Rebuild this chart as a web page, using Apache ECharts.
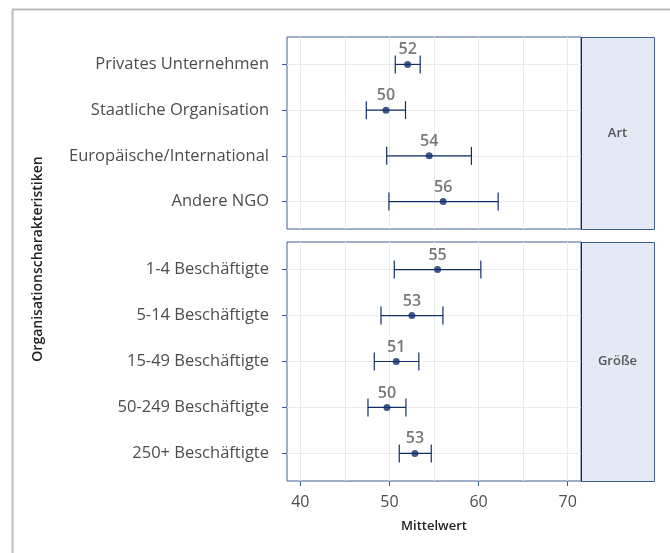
<!DOCTYPE html>
<html><head><meta charset="utf-8">
<script src="https://cdn.jsdelivr.net/npm/echarts@6/dist/echarts.min.js"></script>
<style>html,body{margin:0;padding:0;background:#fff}#c{width:670px;height:553px}</style>
</head><body><div id="c"></div>
<script>
// ---- data ----
const artCategories = ['Privates Unternehmen', 'Staatliche Organisation', 'Europäische/International', 'Andere NGO'];
const artMean = [52.04, 49.61, 54.46, 56.03];
const artLow  = [50.65, 47.40, 49.69, 49.94];
const artHigh = [53.45, 51.80, 59.20, 62.20];

const sizeCategories = ['1-4 Beschäftigte', '5-14 Beschäftigte', '15-49 Beschäftigte', '50-249 Beschäftigte', '250+ Beschäftigte'];
const sizeMean = [55.40, 52.52, 50.76, 49.72, 52.86];
const sizeLow  = [50.54, 49.05, 48.30, 47.59, 51.10];
const sizeHigh = [60.26, 56.00, 53.30, 51.85, 54.69];

const xTickValues = [40, 50, 60, 70];
const xGridValues = [40, 45, 50, 55, 60, 65, 70];
const panelLabels = ['Art', 'Größe'];
const xTitle = 'Mittelwert';
const yTitle = 'Organisationscharakteristiken';

// ---- style ----
const FONT = '"Open Sans"';
const NAVY = '#0f2e6a';
const BORDER = '#3f5d94';
const GRIDC = '#ebebeb';
const TXT = '#4d4d4d';
const X_MIN = 38.5, X_MAX = 71.5;

const L = 287, W = 294;
const panels = [
  { top: 37, height: 192 },
  { top: 242, height: 239 }
];
const stripW = 73;

const idx = arr => arr.map((_, i) => i + 1);

function yAxisFor(gridIndex, cats) {
  const vals = idx(cats);
  return {
    type: 'value', gridIndex, inverse: true, min: 0.4, max: cats.length + 0.6,
    axisLine: { show: false },
    axisTick: { show: true, customValues: vals, length: 5, lineStyle: { color: BORDER, width: 1 } },
    axisLabel: { customValues: vals, formatter: v => cats[Math.round(v) - 1] || '', margin: 18,
      fontFamily: FONT, fontSize: 16.5, color: TXT },
    splitLine: { show: true, lineStyle: { color: GRIDC, width: 1 } }
  };
}

function gridXAxis(gridIndex, position) {
  return {
    type: 'value', gridIndex, min: X_MIN, max: X_MAX, position,
    axisLine: { show: false },
    axisTick: { show: false, customValues: xGridValues },
    axisLabel: { show: false, customValues: xGridValues },
    splitLine: { show: true, lineStyle: { color: GRIDC, width: 1 } }
  };
}

function errorSeries(xi, yi, lo, hi) {
  return {
    type: 'custom', xAxisIndex: xi, yAxisIndex: yi, z: 3,
    data: lo.map((v, i) => [v, hi[i], i + 1]),
    encode: { x: [0, 1], y: 2 },
    renderItem: (params, api) => {
      const a = api.coord([api.value(0), api.value(2)]);
      const b = api.coord([api.value(1), api.value(2)]);
      const h = 9;
      const st = { stroke: NAVY, lineWidth: 1.2 };
      return { type: 'group', children: [
        { type: 'line', shape: { x1: a[0], y1: a[1], x2: b[0], y2: b[1] }, style: st },
        { type: 'line', shape: { x1: a[0], y1: a[1] - h, x2: a[0], y2: a[1] + h }, style: st },
        { type: 'line', shape: { x1: b[0], y1: b[1] - h, x2: b[0], y2: b[1] + h }, style: st }
      ]};
    }
  };
}

function pointSeries(xi, yi, means) {
  return {
    type: 'scatter', xAxisIndex: xi, yAxisIndex: yi, z: 4,
    symbol: 'circle', symbolSize: 7, itemStyle: { color: NAVY },
    data: means.map((v, i) => [v, i + 1]),
    label: { show: true, position: 'top', distance: 3, formatter: p => String(Math.round(p.value[0])),
      fontFamily: FONT, fontSize: 16, fontWeight: 600, color: '#555' },
    emphasis: { disabled: true }
  };
}

const graphics = [];
// outer frame (left and top)
graphics.push({ type: 'line', shape: { x1: 12.5, y1: 9.5, x2: 12.5, y2: 553 }, style: { stroke: '#bdbdbd', lineWidth: 2 } });
graphics.push({ type: 'line', shape: { x1: 12, y1: 9.5, x2: 670, y2: 9.5 }, style: { stroke: '#bdbdbd', lineWidth: 2 } });
panels.forEach((p, k) => {
  graphics.push({ type: 'rect', shape: { x: L + W + 0.5, y: p.top + 0.5, width: stripW, height: p.height },
    style: { fill: '#e3e9f5', stroke: BORDER, lineWidth: 1 }, z: 10 });
  graphics.push({ type: 'line', shape: { x1: L + W + 0.5, y1: p.top + 0.5, x2: L + W + 0.5, y2: p.top + p.height + 0.5 },
    style: { stroke: '#0d2a5c', lineWidth: 1 }, z: 11 });
  graphics.push({ type: 'text', x: L + W + stripW / 2, y: p.top + p.height / 2, z: 12,
    style: { text: panelLabels[k], fontFamily: FONT, fontSize: 13, fontWeight: 600, fill: '#555', align: 'center', verticalAlign: 'middle' } });
});
graphics.push({ type: 'text', x: 38, y: (panels[0].top + panels[1].top + panels[1].height) / 2, rotation: Math.PI / 2,
  style: { text: yTitle, fontFamily: FONT, fontSize: 14, fontWeight: 600, fill: '#222', align: 'center', verticalAlign: 'middle' } });

const option = {
  animation: false,
  backgroundColor: '#fff',
  grid: panels.map(p => ({ left: L, top: p.top, width: W, height: p.height, show: true,
    borderColor: BORDER, borderWidth: 1, backgroundColor: 'transparent', containLabel: false })),
  xAxis: [
    gridXAxis(0, 'bottom'),
    {
      type: 'value', gridIndex: 1, min: X_MIN, max: X_MAX, position: 'bottom',
      axisLine: { show: false },
      axisTick: { show: true, customValues: xTickValues, length: 5, lineStyle: { color: BORDER, width: 1 } },
      axisLabel: { customValues: xTickValues, margin: 13, fontFamily: FONT, fontSize: 16, color: TXT },
      splitLine: { show: false },
      name: xTitle, nameLocation: 'middle', nameGap: 39,
      nameTextStyle: { fontFamily: FONT, fontSize: 13, fontWeight: 600, color: '#222' }
    },
    gridXAxis(1, 'top')
  ],
  yAxis: [yAxisFor(0, artCategories), yAxisFor(1, sizeCategories)],
  series: [
    errorSeries(0, 0, artLow, artHigh),
    pointSeries(0, 0, artMean),
    errorSeries(1, 1, sizeLow, sizeHigh),
    pointSeries(1, 1, sizeMean)
  ],
  graphic: graphics
};

const chart = echarts.init(document.getElementById('c'), null, { renderer: 'canvas' });
chart.setOption(option);
</script>
</body></html>
